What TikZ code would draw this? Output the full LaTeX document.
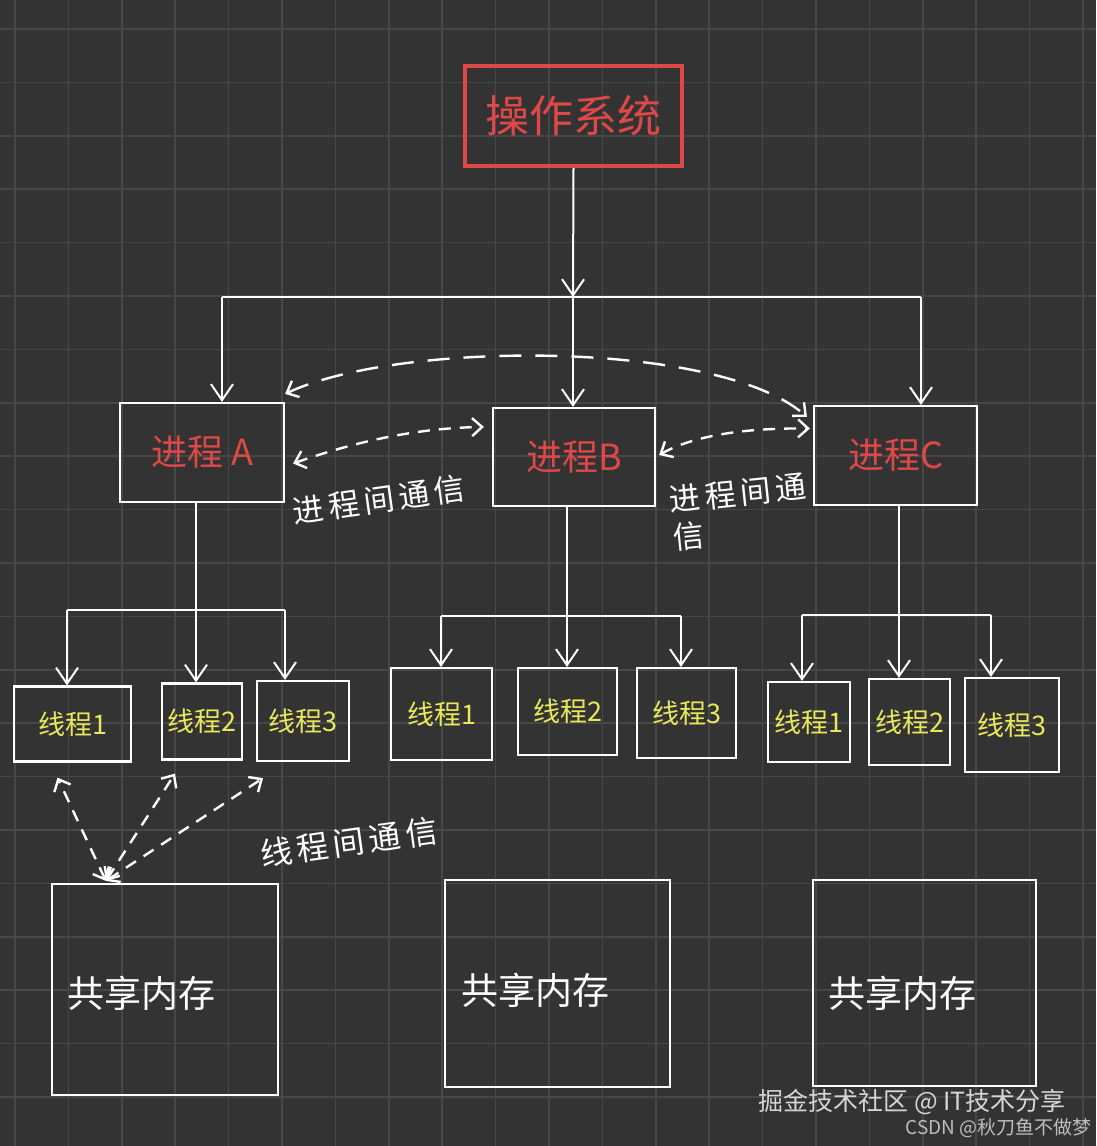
\documentclass[tikz,border=0pt]{standalone}
\usepackage{fontspec}
\newfontfamily\cjk{Noto Sans CJK SC}
\usetikzlibrary{arrows.meta,calc}
\definecolor{bgc}{HTML}{333333}
\definecolor{gridc}{HTML}{474747}
\definecolor{redc}{HTML}{E04848}
\definecolor{yelc}{HTML}{E8E85C}
\definecolor{wmc}{HTML}{D6D6D6}
\definecolor{wmc2}{HTML}{BDBDBD}
\newcommand{\gp}{\hspace{4.5pt}}
\begin{document}
\begin{tikzpicture}[x=1pt,y=-1pt,font=\cjk,
  gridline/.style={gridc,line width=1.6pt},
  osbox/.style={draw=redc,line width=4pt,text=redc,minimum width=217pt,minimum height=100pt,font=\cjk\fontsize{44}{50}\selectfont},
  procbox/.style={draw=white,line width=2.2pt,text=redc,font=\cjk\fontsize{36}{42}\selectfont},
  thrbox/.style={draw=white,line width=2.2pt,text=yelc,inner sep=0pt,font=\cjk\fontsize{27}{30}\selectfont},
  membox/.style={draw=white,line width=2.2pt},
  memtext/.style={text=white,inner sep=0pt,font=\cjk\fontsize{37}{40}\selectfont},
  lbl/.style={text=white,inner sep=0pt,font=\cjk\fontsize{31}{38}\selectfont},
  conn/.style={white,line width=2pt},
  arr/.style={conn,arrows={-Straight Barb[length=16pt,width=22pt]}},
  ipc/.style={white,line width=2.4pt,dash pattern=on 12pt off 9pt,
     arrows={Straight Barb[length=10pt,width=18pt]-Straight Barb[length=10pt,width=18pt]}},
  ipcbig/.style={ipc,dash pattern=on 22pt off 14pt},
  wmark/.style={inner sep=0pt,anchor=east}
]
\useasboundingbox (0,0) rectangle (1096,1146);
\fill[bgc] (0,0) rectangle (1096,1146);
\foreach \i in {0,...,20} {
  \draw[gridline] ({15+53.4*\i},0) -- ({15+53.4*\i},1146);
  \draw[gridline] (0,{29+53.4*\i}) -- (1096,{29+53.4*\i});
}

% nodes
\node[osbox] (os) at (573.5,116) {操作系统};
\node[procbox,minimum width=164pt,minimum height=99pt] (A) at (202,452.5) {进程 A};
\node[procbox,minimum width=162pt,minimum height=98pt] (B) at (574,457) {进程B};
\node[procbox,minimum width=163pt,minimum height=99pt] (C) at (895.5,455.5) {进程C};

\node[thrbox,minimum width=117pt,minimum height=75pt] (A1) at (72.5,724) {线程1};
\node[thrbox,minimum width=80pt,minimum height=76pt] (A2) at (202,721.5) {线程2};
\node[thrbox,minimum width=92pt,minimum height=80pt] (A3) at (303,721) {线程3};
\node[thrbox,minimum width=101pt,minimum height=92pt] (B1) at (441.5,714) {线程1};
\node[thrbox,minimum width=99pt,minimum height=87pt] (B2) at (567.5,711.5) {线程2};
\node[thrbox,minimum width=99pt,minimum height=90pt] (B3) at (686.5,713) {线程3};
\node[thrbox,minimum width=82pt,minimum height=80pt] (C1) at (809,722) {线程1};
\node[thrbox,minimum width=81pt,minimum height=86pt] (C2) at (909.5,722) {线程2};
\node[thrbox,minimum width=94pt,minimum height=94pt] (C3) at (1012,725) {线程3};

\node[membox,minimum width=226pt,minimum height=211pt] (M1) at (165,989.5) {};
\node[membox,minimum width=225pt,minimum height=207pt] (M2) at (557.5,983.5) {};
\node[membox,minimum width=223pt,minimum height=206pt] (M3) at (924.5,983) {};
\node[memtext] (M1t) at (141,993) {共享内存};
\node[memtext] (M2t) at (535,990) {共享内存};
\node[memtext] (M3t) at (902,993) {共享内存};

% labels
\node[lbl,rotate=8] (ipcAB) at (379,500) {进\gp 程\gp 间\gp 通\gp 信};
\node[lbl,rotate=6,align=left] (ipcBC) at (740,512) {进\gp 程\gp 间\gp 通\\信};
\node[lbl,rotate=8,font=\cjk\fontsize{32}{38}\selectfont] (ipcT) at (349,842) {线\gp 程\gp 间\gp 通\gp 信};

% OS to processes
\coordinate (hub) at (573,297);
\coordinate (hL) at (222,297);
\coordinate (hR) at (921,297);
\draw[arr] (os.south) -- (hub);
\draw[conn] (hL) -- (hR);
\draw[arr] (hL) -- (hL |- A.north);
\draw[arr] (hub) -- (hub |- B.north);
\draw[arr] (hR) -- (hR |- C.north);

% process A to threads
\coordinate (aL) at (67,610);
\coordinate (aM) at (196,610);
\coordinate (aR) at (285,610);
\draw[arr] (aM |- A.south) -- (aM |- A2.north);
\draw[conn] (aL) -- (aR);
\draw[arr] (aL) -- (aL |- A1.north);
\draw[arr] (aR) -- (aR |- A3.north);

% process B to threads
\coordinate (bL) at (441,616);
\coordinate (bM) at (567,616);
\coordinate (bR) at (681,616);
\draw[arr] (bM |- B.south) -- (bM |- B2.north);
\draw[conn] (bL) -- (bR);
\draw[arr] (bL) -- (bL |- B1.north);
\draw[arr] (bR) -- (bR |- B3.north);

% process C to threads
\coordinate (cL) at (802,615);
\coordinate (cM) at (899,615);
\coordinate (cR) at (991,615);
\draw[arr] (cM |- C.south) -- (cM |- C2.north);
\draw[conn] (cL) -- (cR);
\draw[arr] (cL) -- (cL |- C1.north);
\draw[arr] (cR) -- (cR |- C3.north);

% inter-process communication
\draw[ipcbig] ($(A.north east)+(0,-8)$) .. controls (400,340) and (720,340) .. ($(C.north west)+(-6,12)$);
\draw[ipc] ($(A.east)+(8,11)$) .. controls (360,440) and (420,428) .. ($(B.north west)+(-8,20)$);
\draw[ipc] ($(B.east)+(3,-2)$) .. controls (700,432) and (760,428) .. ($(C.west)+(-3,-27)$);

% inter-thread communication
\coordinate (mj) at ($(M1.north west)+(55,-2)$);
\draw[ipc] (mj) -- ($(A1.south)+(-15,15)$);
\draw[ipc] (mj) -- ($(A2.south)+(-27,13)$);
\draw[ipc] (mj) -- ($(A3.south)+(-40,16)$);

% watermark
\node[wmark,text=wmc,font=\cjk\fontsize{25}{28}\selectfont] (wm1) at (1066,1102) {掘金技术社区 @ IT技术分享};
\node[wmark,text=wmc2,font=\cjk\fontsize{19}{22}\selectfont] (wm2) at (1092,1128) {CSDN @秋刀鱼不做梦};
\end{tikzpicture}
\end{document}
